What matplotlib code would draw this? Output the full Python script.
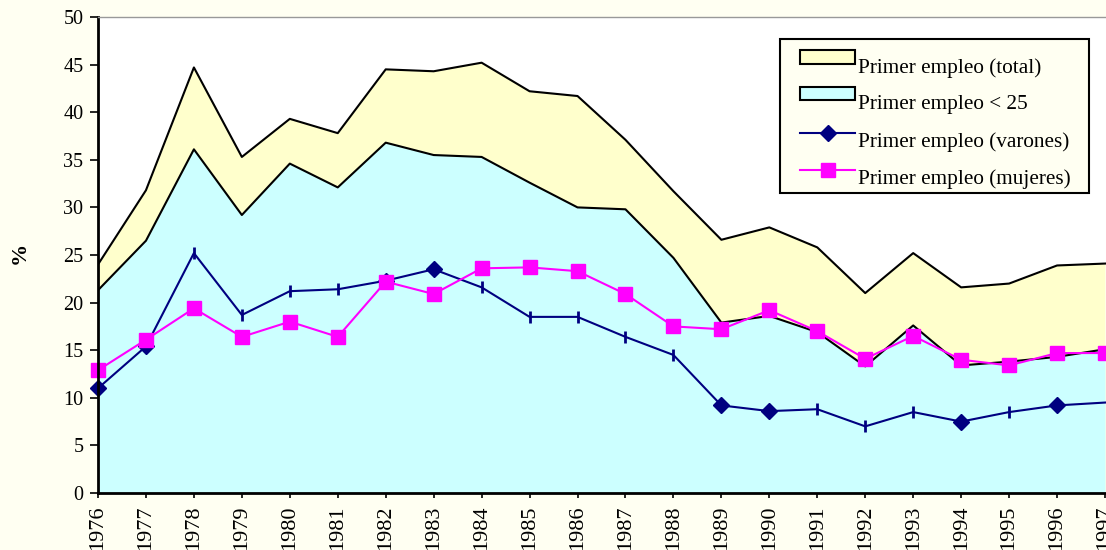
import matplotlib
matplotlib.use("Agg")
import matplotlib.pyplot as plt
from matplotlib.patches import Patch, Rectangle
from matplotlib.lines import Line2D
from matplotlib.legend_handler import HandlerPatch, HandlerLine2D
from matplotlib.transforms import Affine2D

years = list(range(1976, 1998))
total = [24.0, 31.8, 44.7, 35.3, 39.3, 37.8, 44.5, 44.3, 45.2, 42.2, 41.7,
         37.1, 31.7, 26.6, 27.9, 25.8, 21.0, 25.2, 21.6, 22.0, 23.9, 24.1]
menores25 = [21.3, 26.5, 36.1, 29.2, 34.6, 32.1, 36.8, 35.5, 35.3, 32.6, 30.0,
             29.8, 24.7, 17.9, 18.6, 16.9, 13.3, 17.6, 13.4, 13.8, 14.3, 15.1]
varones = [11.0, 15.4, 25.2, 18.7, 21.2, 21.4, 22.3, 23.5, 21.6, 18.5, 18.5,
           16.4, 14.5, 9.2, 8.6, 8.8, 7.0, 8.5, 7.5, 8.5, 9.2, 9.5]
mujeres = [12.9, 16.1, 19.4, 16.4, 18.0, 16.4, 22.2, 20.9, 23.6, 23.7, 23.3,
           20.9, 17.5, 17.2, 19.2, 17.0, 14.1, 16.5, 14.0, 13.4, 14.7, 14.7]
# marcador que se ve en cada punto de la serie de varones
marcas_varones = ['D', 'D', '|', '|', '|', '|', 'D', 'D', '|', '|', '|',
                  '|', '|', 'D', 'D', '|', '|', '|', 'D', '|', 'D', '']

etiquetas = ["Primer empleo (total)", "Primer empleo < 25",
             "Primer empleo (varones)", "Primer empleo (mujeres)"]

fondo = '#FFFFF2'
amarillo = '#FFFFCC'
celeste = '#CCFFFF'
azul = '#000080'
rosa = '#FF00FF'

plt.rcParams['font.family'] = ['Liberation Serif', 'DejaVu Serif']


# en la leyenda original los simbolos quedan algo mas altos que el texto
class PatchSubido(HandlerPatch):
    def __init__(self, subida, **kw):
        super().__init__(**kw)
        self.subida = subida

    def create_artists(self, legend, orig_handle, xdescent, ydescent,
                       width, height, fontsize, trans):
        trans = Affine2D().translate(0, self.subida) + trans
        return super().create_artists(legend, orig_handle, xdescent, ydescent,
                                      width, height, fontsize, trans)


class LineaSubida(HandlerLine2D):
    def __init__(self, subida, **kw):
        super().__init__(**kw)
        self.subida = subida

    def create_artists(self, legend, orig_handle, xdescent, ydescent,
                       width, height, fontsize, trans):
        trans = Affine2D().translate(0, self.subida) + trans
        return super().create_artists(legend, orig_handle, xdescent, ydescent,
                                      width, height, fontsize, trans)


W, H = 1106, 550
fig = plt.figure(figsize=(W / 100, H / 100), dpi=100, facecolor=fondo)
# el area del grafico sigue un poco mas alla del borde derecho de la imagen
ax = fig.add_axes([98 / W, 1 - 493 / H, (1115 - 98) / W, (493 - 17) / H])
ax.set_facecolor('white')

paso = (1105 - 98) / 21
ax.set_xlim(1976, 1976 + (1115 - 98) / paso)
ax.set_ylim(0, 50)

ax.fill_between(years, 0, total, color=amarillo, lw=0)
ax.fill_between(years, 0, menores25, color=celeste, lw=0)
ax.plot(years, total, color='black', lw=1.5)
ax.plot(years, menores25, color='black', lw=1.5)

ax.plot(years, varones, color=azul, lw=1.5)
for x, y, m in zip(years, varones, marcas_varones):
    if m == 'D':
        ax.plot(x, y, marker='D', ms=8, color=azul, clip_on=False)
    elif m == '|':
        ax.plot(x, y, marker='|', ms=8.5, mew=2, color=azul, clip_on=False)

ax.plot(years, mujeres, color=rosa, lw=1.5, marker='s', ms=9.8, mec=rosa,
        clip_on=False)

ax.set_yticks(range(0, 51, 5))
ax.set_xticks(years)
ax.set_xticklabels([str(y) for y in years], rotation=90, fontsize=16)
ax.tick_params(axis='y', labelsize=14.5, direction='out', length=5.5, width=1.2, pad=5)
ax.tick_params(axis='x', direction='out', length=3.8, width=1.2, pad=5)

for lado in ['left', 'bottom']:
    ax.spines[lado].set_color('black')
    ax.spines[lado].set_linewidth(2)
for lado in ['top', 'right']:
    ax.spines[lado].set_color('#999999')
    ax.spines[lado].set_linewidth(1)

fig.text(20 / W, 1 - 253 / H, '%', rotation=90, fontsize=16,
         fontweight='bold', ha='center', va='center')

# recuadro de la leyenda
marco = Rectangle((780 / W, 1 - 193 / H), 309 / W, 154 / H,
                  transform=fig.transFigure, facecolor=fondo,
                  edgecolor='black', lw=1.5, zorder=4)
fig.add_artist(marco)

manejadores = [
    Patch(facecolor=amarillo, edgecolor='black', lw=1.5),
    Patch(facecolor=celeste, edgecolor='black', lw=1.5),
    Line2D([], [], color=azul, lw=1.5, marker='D', ms=8),
    Line2D([], [], color=rosa, lw=1.5, marker='s', ms=9.8),
]
ley = fig.legend(manejadores, etiquetas, loc='upper left',
                 bbox_to_anchor=(800 / W, 1 - 58 / H), fontsize=15.3,
                 frameon=False, handlelength=2.6, handleheight=0.6,
                 handletextpad=0.14, labelspacing=0.82, borderpad=0,
                 borderaxespad=0,
                 handler_map={Patch: PatchSubido(6.0),
                              Line2D: LineaSubida(4.4)})
ley.set_zorder(5)

fig.savefig('out.png', dpi=100, facecolor=fondo)
